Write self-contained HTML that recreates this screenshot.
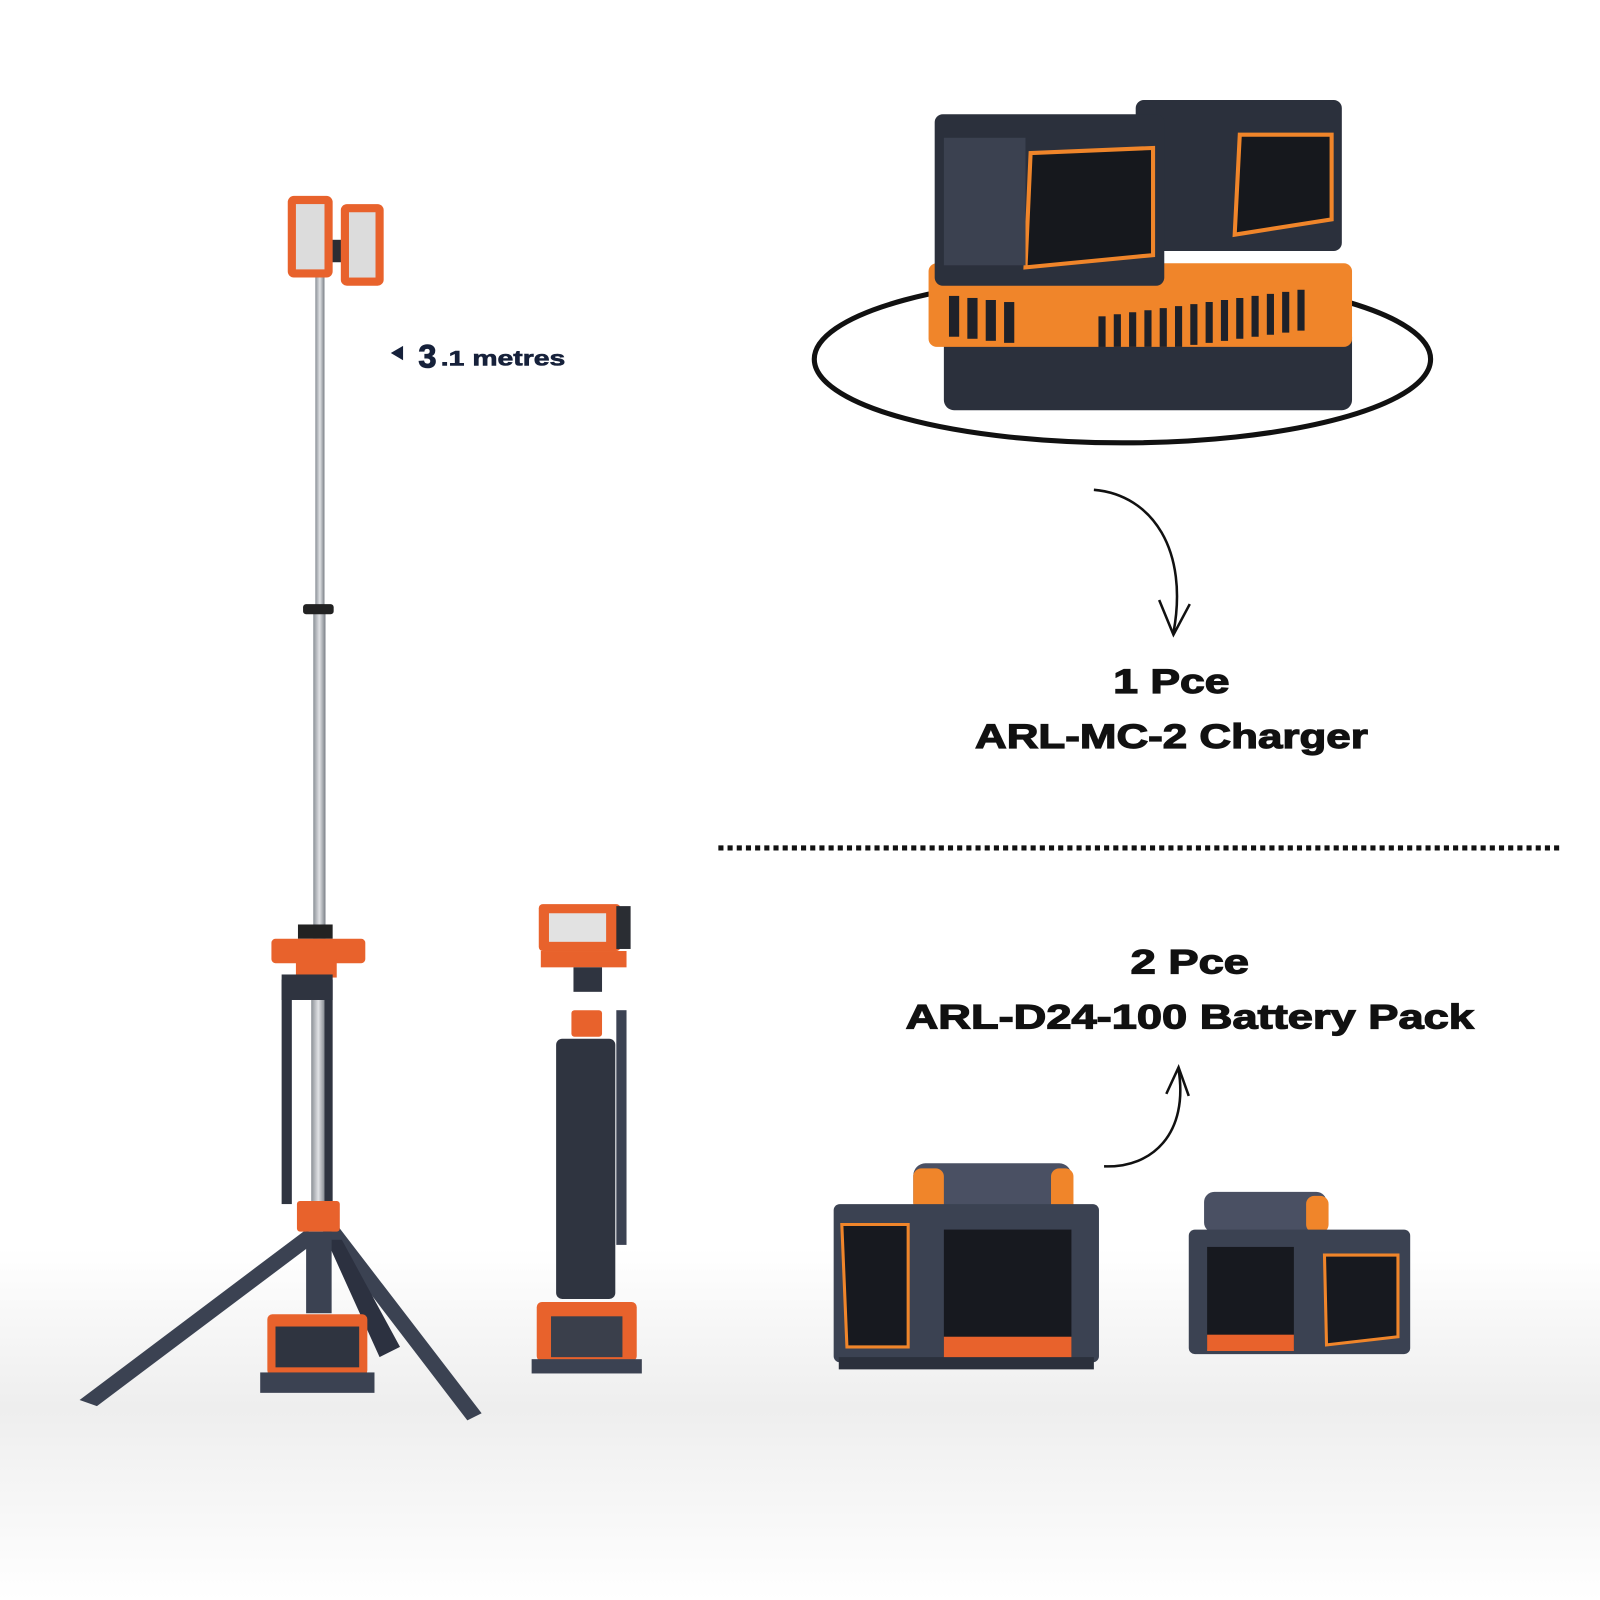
<!DOCTYPE html>
<html><head><meta charset="utf-8"><style>
html,body{margin:0;padding:0;background:#fff;}
svg{display:block;}
text{font-family:"Liberation Sans",sans-serif;font-weight:bold;fill:#111;}
.h{stroke:#111;stroke-width:1.2;}
</style></head><body>
<svg width="1600" height="1600" viewBox="0 0 1600 1600" xmlns="http://www.w3.org/2000/svg">
<defs>
<linearGradient id="bg" x1="0" y1="0" x2="0" y2="1">
<stop offset="0" stop-color="#ffffff"/><stop offset="0.78" stop-color="#ffffff"/><stop offset="0.88" stop-color="#eeeeee"/><stop offset="1" stop-color="#ffffff"/>
</linearGradient>
<linearGradient id="pole" x1="0" x2="1"><stop offset="0" stop-color="#8a8f96"/><stop offset="0.5" stop-color="#e0e2e5"/><stop offset="1" stop-color="#7a7f86"/></linearGradient>
</defs>
<rect width="1600" height="1600" fill="url(#bg)"/>
<g transform="scale(1.0204)">

<rect x="309" y="270" width="9" height="330" fill="url(#pole)"/>
<rect x="307" y="600" width="12" height="320" fill="url(#pole)"/>
<rect x="305" y="960" width="14" height="220" fill="url(#pole)"/>
<rect x="297" y="592" width="30" height="10" rx="3" fill="#222"/>
<rect x="318" y="235" width="18" height="22" fill="#2a2d33"/>
<rect x="282" y="192" width="44" height="80" rx="6" fill="#e8622c"/>
<rect x="290" y="200" width="28" height="64" fill="#dcdcdc"/>
<rect x="334" y="200" width="42" height="80" rx="6" fill="#e8622c"/>
<rect x="342" y="208" width="26" height="64" fill="#dcdcdc"/>
<rect x="292" y="906" width="34" height="14" fill="#222"/>
<rect x="266" y="920" width="92" height="24" rx="4" fill="#e8622c"/>
<rect x="290" y="940" width="40" height="18" fill="#e8622c"/>
<rect x="276" y="960" width="10" height="220" fill="#2f3440"/>
<rect x="318" y="960" width="8" height="220" fill="#2f3440"/>
<rect x="276" y="955" width="50" height="25" fill="#2f3440"/>
<polygon points="300,1205 312,1215 95,1378 78,1372" fill="#3b4252"/>
<polygon points="315,1205 330,1200 472,1385 458,1392" fill="#3b4252"/>
<polygon points="320,1215 335,1215 392,1320 372,1330" fill="#2c3140"/>
<rect x="291" y="1177" width="42" height="30" rx="3" fill="#e8622c"/>
<rect x="300" y="1207" width="25" height="80" fill="#3b4252"/>
<rect x="262" y="1288" width="98" height="60" rx="5" fill="#e8622c"/>
<rect x="270" y="1300" width="82" height="40" fill="#2f3440"/>
<rect x="255" y="1345" width="112" height="20" fill="#3b4252"/>

<rect x="528" y="886" width="80" height="46" rx="4" fill="#e8622c"/>
<rect x="538" y="895" width="56" height="28" fill="#e2e2e2"/>
<rect x="604" y="888" width="14" height="42" fill="#2a2d33"/>
<rect x="530" y="932" width="84" height="16" fill="#e8622c"/>
<rect x="562" y="948" width="28" height="24" fill="#2f3440"/>
<rect x="560" y="990" width="30" height="26" rx="3" fill="#e8622c"/>
<rect x="545" y="1018" width="58" height="255" rx="6" fill="#2f3440"/>
<rect x="604" y="990" width="10" height="230" fill="#3b4252"/>
<rect x="526" y="1276" width="98" height="58" rx="5" fill="#e8622c"/>
<rect x="540" y="1290" width="70" height="40" fill="#3a3f4b"/>
<rect x="521" y="1332" width="108" height="14" fill="#3b4252"/>

<polygon points="383,346 395,339 395,353" fill="#16213a"/>
<text x="410" y="360" font-size="32" style="fill:#16213a;stroke:#16213a;stroke-width:1">3</text>
<text x="432" y="358" font-size="21" textLength="122" lengthAdjust="spacingAndGlyphs" style="fill:#16213a;stroke:#16213a;stroke-width:0.6">.1 metres</text>

<ellipse cx="1100" cy="352" rx="302" ry="82" fill="none" stroke="#111" stroke-width="5"/>
<rect x="925" y="320" width="400" height="82" rx="10" fill="#2b303c"/>
<rect x="910" y="258" width="415" height="82" rx="8" fill="#f0852a"/>
<g fill="#1e2129">
<rect x="930" y="290" width="10" height="40"/><rect x="948" y="292" width="10" height="40"/><rect x="966" y="294" width="10" height="40"/><rect x="984" y="296" width="10" height="40"/>
</g>
<g stroke="#1e2129" stroke-width="7">
<line x1="1080" y1="310" x2="1080" y2="340"/><line x1="1095" y1="308" x2="1095" y2="340"/><line x1="1110" y1="306" x2="1110" y2="340"/><line x1="1125" y1="304" x2="1125" y2="340"/><line x1="1140" y1="302" x2="1140" y2="340"/><line x1="1155" y1="300" x2="1155" y2="340"/><line x1="1170" y1="298" x2="1170" y2="338"/><line x1="1185" y1="296" x2="1185" y2="336"/><line x1="1200" y1="294" x2="1200" y2="334"/><line x1="1215" y1="292" x2="1215" y2="332"/><line x1="1230" y1="290" x2="1230" y2="330"/><line x1="1245" y1="288" x2="1245" y2="328"/><line x1="1260" y1="286" x2="1260" y2="326"/><line x1="1275" y1="284" x2="1275" y2="324"/>
</g>
<rect x="1113" y="98" width="202" height="148" rx="8" fill="#2b303c"/>
<path d="M1215 132 L1305 132 L1305 215 L1210 230 Z" fill="#16181d" stroke="#f0852a" stroke-width="4"/>
<rect x="916" y="112" width="225" height="168" rx="8" fill="#2b303c"/>
<path d="M1010 150 L1130 145 L1130 250 L1005 262 Z" fill="#16181d" stroke="#f0852a" stroke-width="4"/>
<rect x="925" y="135" width="80" height="125" fill="#3b4150"/>

<path d="M1072 480 C1130 485 1165 540 1150 620" fill="none" stroke="#111" stroke-width="2.5"/>
<path d="M1136 588 L1150 622 L1166 592" fill="none" stroke="#111" stroke-width="2.5"/>

<text class="h" x="1148" y="679" font-size="34" text-anchor="middle" textLength="114" lengthAdjust="spacingAndGlyphs">1 Pce</text>
<text class="h" x="1148" y="733" font-size="34" text-anchor="middle" textLength="385" lengthAdjust="spacingAndGlyphs">ARL-MC-2 Charger</text>

<line x1="704" y1="831" x2="1532" y2="831" stroke="#111" stroke-width="5" stroke-dasharray="5 4"/>

<text class="h" x="1166" y="954" font-size="34" text-anchor="middle" textLength="116" lengthAdjust="spacingAndGlyphs">2 Pce</text>
<text class="h" x="1166" y="1008" font-size="34" text-anchor="middle" textLength="557" lengthAdjust="spacingAndGlyphs">ARL-D24-100 Battery Pack</text>

<path d="M1082 1143 C1130 1145 1165 1110 1155 1048" fill="none" stroke="#111" stroke-width="2.5"/>
<path d="M1143 1072 L1155 1046 L1165 1074" fill="none" stroke="#111" stroke-width="2.5"/>

<rect x="895" y="1140" width="155" height="50" rx="12" fill="#4a5063"/>
<rect x="895" y="1145" width="30" height="45" rx="8" fill="#f0852a"/>
<rect x="1030" y="1145" width="22" height="45" rx="8" fill="#f0852a"/>
<rect x="817" y="1180" width="260" height="155" rx="6" fill="#3b4252"/>
<path d="M825 1200 L890 1200 L890 1320 L830 1320 Z" fill="#17191f" stroke="#f0852a" stroke-width="3"/>
<rect x="925" y="1205" width="125" height="125" fill="#17191f"/>
<rect x="925" y="1310" width="125" height="22" fill="#e8622c"/>
<rect x="822" y="1330" width="250" height="12" fill="#2b303c"/>

<rect x="1180" y="1168" width="120" height="40" rx="10" fill="#4a5063"/>
<rect x="1280" y="1172" width="22" height="36" rx="8" fill="#f0852a"/>
<rect x="1165" y="1205" width="217" height="122" rx="6" fill="#3b4252"/>
<rect x="1183" y="1222" width="85" height="100" fill="#17191f"/>
<rect x="1183" y="1308" width="85" height="16" fill="#e8622c"/>
<path d="M1298 1230 L1370 1230 L1370 1310 L1300 1318 Z" fill="#17191f" stroke="#f0852a" stroke-width="3"/>
</g>
</svg>
</body></html>
